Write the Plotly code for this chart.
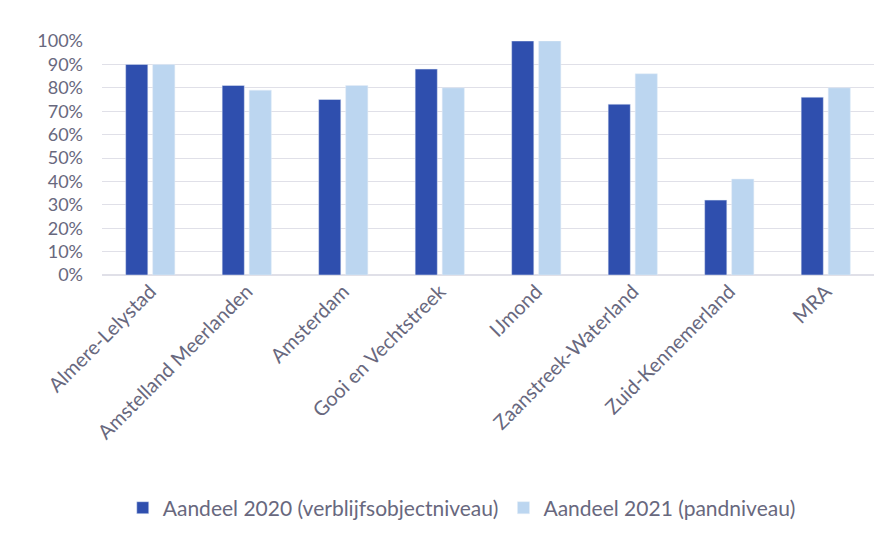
import plotly.graph_objects as go

# Regions and shares (fraction of objects)
regions = [
    "Almere-Lelystad",
    "Amstelland Meerlanden",
    "Amsterdam",
    "Gooi en Vechtstreek",
    "IJmond",
    "Zaanstreek-Waterland",
    "Zuid-Kennemerland",
    "MRA",
]
aandeel_2020 = [0.90, 0.81, 0.75, 0.88, 1.00, 0.73, 0.32, 0.76]
aandeel_2021 = [0.90, 0.79, 0.81, 0.80, 1.00, 0.86, 0.41, 0.80]

font_family = "Lato, 'Open Sans', sans-serif"
text_color = "#68687e"

fig = go.Figure()

# Dark bars: 2020 share
fig.add_trace(
    go.Bar(
        x=regions,
        y=aandeel_2020,
        name="Aandeel 2020 (verblijfsobjectniveau)",
        marker=dict(color="#2f4fae"),
    )
)

# Light bars: 2021 share
fig.add_trace(
    go.Bar(
        x=regions,
        y=aandeel_2021,
        name="Aandeel 2021 (pandniveau)",
        marker=dict(color="#bcd6f0"),
    )
)

fig.update_layout(
    width=885,
    height=541,
    barmode="group",
    bargap=0.44,
    bargroupgap=0.18,
    plot_bgcolor="white",
    paper_bgcolor="white",
    margin=dict(l=94, r=19, t=33, b=274),
    font=dict(family=font_family, size=20, color=text_color),
    legend=dict(
        orientation="h",
        x=0.466,
        xanchor="center",
        y=-0.996,
        yanchor="middle",
        font=dict(size=21, color=text_color),
        itemwidth=30,
        tracegroupgap=0,
    ),
)

fig.update_xaxes(
    tickangle=-45,
    showline=False,
    ticks="",
    tickfont=dict(size=20, color=text_color),
)

fig.update_yaxes(
    range=[0, 1],
    dtick=0.1,
    tickformat=".0%",
    showgrid=True,
    gridcolor="#e0e0e8",
    gridwidth=1,
    zeroline=True,
    zerolinecolor="#e0e0e8",
    ticks="",
    ticklabelstandoff=18,
    tickfont=dict(size=18, color=text_color),
)

fig.write_html("out.html")
